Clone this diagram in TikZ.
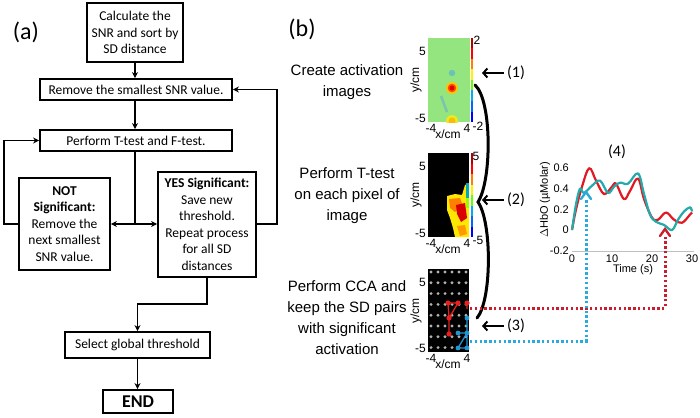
\documentclass[tikz,border=0pt]{standalone}
\usepackage{fontspec}
\setmainfont{Carlito}
\newfontfamily\arialfont{Liberation Sans}
\usetikzlibrary{arrows.meta,calc}
\definecolor{heatgreen}{RGB}{148,228,128}
\definecolor{dotred}{RGB}{200,30,45}
\definecolor{dotblue}{RGB}{40,170,220}
\definecolor{curvered}{RGB}{225,25,35}
\definecolor{curveteal}{RGB}{35,170,170}
\definecolor{netred}{RGB}{235,30,30}
\definecolor{netblue}{RGB}{30,150,210}
\begin{document}
\begin{tikzpicture}[x=1pt,y=-1pt,
  box/.style={draw, line width=1.8pt, inner sep=0pt, align=center, font=\fontsize{13.5}{16.5}\selectfont},
  arr/.style={line width=1.5pt, -{Stealth[length=6pt,width=6pt]}},
  plain/.style={line width=1.5pt},
  btext/.style={font=\arialfont\fontsize{15}{21}\selectfont, align=center},
  tick/.style={font=\arialfont\fontsize{12}{12}\selectfont, inner sep=0pt},
  ptick/.style={font=\arialfont\fontsize{11}{11}\selectfont, inner sep=0pt},
  numlab/.style={font=\fontsize{16}{16}\selectfont},
  pointer/.style={line width=2pt, -{Straight Barb[length=4pt,width=9pt]}},
  dotline/.style={line width=3pt, dash pattern=on 2.4pt off 2.4pt},
  netedge/.style={line width=1.3pt}
]
\useasboundingbox (0,0) rectangle (700,417);
\fill[white] (0,0) rectangle (700,417);

% ---------------- panel (a) ----------------
\node[font=\fontsize{24}{24}\selectfont] (la) at (26,32) {(a)};
\node[box, minimum width=96pt, minimum height=59pt] (calc) at (135,32.5) {Calculate the\\SNR and sort by\\SD distance};
\node[box, minimum width=192pt, minimum height=21pt] (remove) at (136,89.5) {Remove the smallest SNR value.};
\node[box, minimum width=192pt, minimum height=21pt] (perform) at (136,140.5) {Perform T-test and F-test.};
\node[box, minimum width=91pt, minimum height=92pt] (notsig) at (64.5,224) {\textbf{NOT}\\\textbf{Significant:}\\Remove the\\next smallest\\SNR value.};
\node[box, minimum width=98pt, minimum height=105pt] (yessig) at (207,224.5) {\textbf{YES Significant:}\\Save new\\threshold.\\Repeat process\\for all SD\\distances};
\node[box, minimum width=145pt, minimum height=26pt] (select) at (137.5,345) {Select global threshold};
\node[box, minimum width=70pt, minimum height=23pt, font=\fontsize{18}{20}\selectfont\bfseries] (end) at (138,401.5) {END};

\draw[arr] (calc.south) -- (calc.south |- remove.north);
\draw[arr] (calc.south |- remove.south) -- (calc.south |- perform.north);
\coordinate (jn) at (calc.south |- notsig.east);
\draw[plain] (calc.south |- perform.south) -- (jn);
\draw[line width=1.5pt, {Stealth[length=6pt,width=6pt]}-{Stealth[length=6pt,width=6pt]}] (notsig.east) -- (notsig.east -| yessig.west);
\draw[arr] (notsig.west) -- ++(-14,0) |- (perform.west);
\draw[arr] (yessig.east |- notsig.east) -- ++(20,0) |- (remove.east);
\draw[arr] (yessig.south) -- ++(0,26) -| (select.north);
\draw[arr] (select.south) -- (select.south |- end.north);

% ---------------- panel (b) ----------------
\node[font=\fontsize{24}{24}\selectfont] (lb) at (302,29) {(b)};
\node[btext] (t1) at (347,82.5) {Create activation\\images};
\node[btext] (t2) at (347,196) {Perform T-test\\on each pixel of\\image};
\node[btext] (t3) at (347,318) {Perform CCA and\\keep the SD pairs\\with significant\\activation};

% image 1
\fill[heatgreen] (428,38) rectangle (470,122);
\draw[cyan!25!heatgreen, line width=2.5pt] (441,96) -- (447,112);
\fill[cyan!35!heatgreen] (452,73) circle[radius=3.2];
\fill[yellow!60!orange] (452,88) circle[radius=6];
\fill[orange!60!red] (452,88) circle[radius=4.3];
\fill[red!90!black] (452,88) circle[radius=2.5];
\begin{scope}
\clip (428,38) rectangle (470,122);
\fill[yellow!80!heatgreen] (452,121) circle[radius=6];
\fill[yellow!50!orange] (452,121) circle[radius=3.5];
\end{scope}

% colour bars
\foreach \ytop/\ybot in {38/122, 153/237}{
  \foreach \c [count=\i from 0] in {red!70!black, red, orange, yellow, green!60!yellow, cyan, blue!60!cyan, blue}{
    \fill[\c] (470.5,{\ytop+\i*(\ybot-\ytop)/8}) rectangle (472.5,{\ytop+(\i+1)*(\ybot-\ytop)/8});
  }
}
\node[tick] (c1t) at (477,40) {2};
\node[tick] (c1b) at (478,126) {-2};
\node[tick] (c2t) at (476,156) {5};
\node[tick] (c2b) at (478,240) {-5};

% image 2
\fill[black] (428,153) rectangle (469,237);
\fill[yellow!90!orange] (447,196) -- (455,194) -- (462,195) -- (465,185) -- (469,183) -- (469,237) -- (455,237) -- (453,228) -- (450,218) -- (447,210) -- cycle;
\fill[orange] (449,199) -- (460,198) -- (463,206) -- (455,212) -- (450,208) -- cycle;
\fill[red!85!black] (456,205) -- (465,203) -- (467,218) -- (461,222) -- (457,214) -- cycle;
\fill[orange!80!yellow] (457,226) -- (465,225) -- (467,234) -- (460,236) -- cycle;
\fill[green!40!yellow] (466,196) rectangle (469,208);
\fill[cyan!60!green] (466,183) rectangle (469,198);

% image 3
\fill[black] (428,269) rectangle (469,352);
\foreach \gx in {431,438,445,452,459,466}{
  \foreach \gy in {272,282.8,293.6,304.4,315.2,326,336.8,347.6}{
    \fill[gray!60] (\gx,\gy) circle[radius=1.6];
  }
}
\coordinate (r1) at (448,303);
\coordinate (r2) at (458,303);
\coordinate (r3) at (467,303);
\coordinate (r4) at (449,318);
\coordinate (r5) at (449,334);
\draw[netred, netedge] (r1) -- (r2) (r1) -- (r4) (r2) -- (r4) (r4) -- (r5) (r3) -- ++(0,6);
\foreach \p in {r1,r2,r3,r4,r5} \fill[netred] (\p) circle[radius=2.6];
\coordinate (b1) at (467,318);
\coordinate (b2) at (458,333);
\coordinate (b3) at (467,333);
\coordinate (b4) at (458,348);
\coordinate (b5) at (467,348);
\draw[netblue, netedge] (b1) -- (b3) (b2) -- (b3) (b3) -- (b4) (b4) -- (b5) (b3) -- (b5);
\foreach \p in {b1,b2,b3,b4,b5} \fill[netblue] (\p) circle[radius=2.4];

% axis labels of the three images
\foreach \yt/\yc/\yb/\xl in {38/80/122/1, 153/195/237/2, 269/311/352/3}{
  \node[tick, anchor=east] (y5\xl) at (426,\yt+13) {5};
  \node[tick, anchor=east] (ym\xl) at (426,\yb-4) {-5};
  \node[tick, rotate=90] (yl\xl) at (416,\yc) {y/cm};
  \node[tick] (xm\xl) at (431,\yb+6) {-4};
  \node[tick] (xl\xl) at (448,\yb+12) {x/cm};
  \node[tick] (xp\xl) at (467,\yb+6) {4};
}

% brace
\draw[line width=3pt, line cap=round] (475,85) .. controls (492,100) and (492,180) .. (478,202) .. controls (492,222) and (492,300) .. (477,318);

% pointers (1)(2)(3)
\node[numlab] (n1) at (516,73) {(1)};
\node[numlab] (n2) at (516,200) {(2)};
\node[numlab] (n3) at (516,326) {(3)};
\coordinate (p1) at (482,73);
\coordinate (p2) at (482,200);
\coordinate (p3) at (482,326);
\draw[pointer] (n1.west) -- (p1);
\draw[pointer] (n2.west) -- (p2);
\draw[pointer] (n3.west) -- (p3);

% ---------------- plot (4) ----------------
\node[numlab] (n4) at (617,152) {(4)};
\draw[gray!50, line width=0.6pt] (572,251) -- (694,251);
\foreach \v/\lab in {0.6/0.6, 0.4/0.4, 0.2/0.2, 0/0, -0.2/-0.2}{
  \node[ptick, anchor=east] at (569,{230-103*\v}) {\lab};
}
\foreach \t in {0,10,20,30}{
  \node[ptick] at ({572+4*\t},259) {\t};
}
\node[ptick] (tlab) at (633,270) {Time (s)};
\node[ptick, rotate=90] (ylab) at (545,200) {$\Delta$HbO (\textmu Molar)};

\draw[curvered, line width=2.2pt, line join=round] plot[smooth, tension=0.6] coordinates {(572,230) (576,209.4) (582,186.7) (589.2,168.2) (596,180.6) (604,194) (612,186.7) (616,183.7) (624,199.1) (630,190.9) (638,178.5) (644,199.1) (652,217.6) (658,219.7) (666,212.5) (674,219.7) (682,222.8) (690,214.6) (692,212.5)};
\draw[curveteal, line width=2.2pt, line join=round] plot[smooth, tension=0.6] coordinates {(572,230) (576,204.3) (580,188.8) (584,192.9) (592,185.7) (600,180.6) (608,192.9) (614,186.7) (620,182.6) (628,183.7) (638,173.4) (644,194) (650,214.6) (656,221.8) (664,224.9) (672,230) (678,219.7) (684,211.5) (690,207.3) (692,211.5)};

% dotted links
\coordinate (rs) at (470,308);
\coordinate (rt) at (665,229);
\coordinate (bs) at (470,341);
\coordinate (bt) at (586,192);
\draw[dotline, dotred] (rs) -| ($(rt)+(0,8)$);
\draw[dotline, dotblue] (bs) -| ($(bt)+(0,8)$);
\draw[dotred, line width=2.4pt, line cap=round, line join=miter] ($(rt)+(-5,7)$) -- (rt) -- ($(rt)+(5,7)$);
\draw[dotblue, line width=2.4pt, line cap=round, line join=miter] ($(bt)+(-5,7)$) -- (bt) -- ($(bt)+(5,7)$);
\end{tikzpicture}
\end{document}
